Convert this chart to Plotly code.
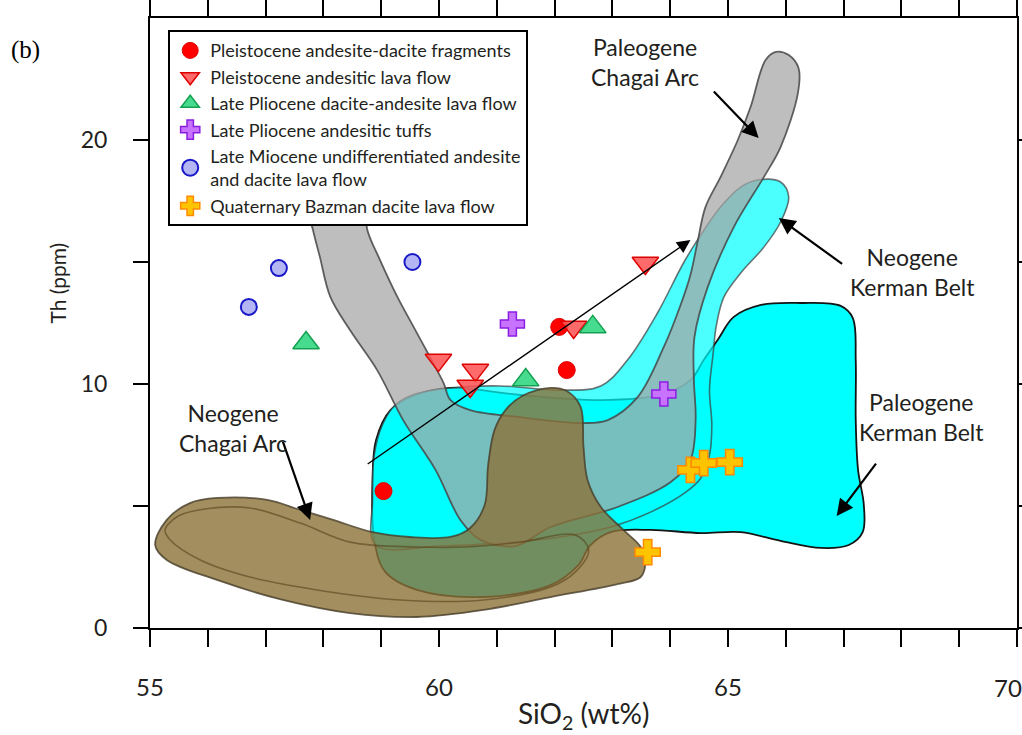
import plotly.graph_objects as go

# ---- sample data: SiO2 (wt%) vs Th (ppm) ----
pleist_frag_x = [62.08, 62.21, 59.04]
pleist_frag_y = [12.34, 10.57, 5.61]

pleist_lava_x = [59.99, 60.63, 60.54, 62.33, 63.57]
pleist_lava_y = [10.98, 10.57, 9.92, 12.34, 14.96]

plio_lava_x = [57.70, 61.50, 62.66]
plio_lava_y = [11.68, 10.16, 12.34]

plio_tuff_x = [61.27, 63.89]
plio_tuff_y = [12.46, 9.59]

miocene_x = [56.71, 57.23, 59.54]
miocene_y = [13.16, 14.75, 15.00]

bazman_x = [64.35, 64.58, 65.03, 63.61]
bazman_y = [6.48, 6.76, 6.80, 3.11]

# ---- field outlines (SiO2, Th) ----
pkb_x = [65.10, 65.57, 66.26, 66.95, 67.16, 67.21, 67.21, 67.25, 67.35, 67.33, 67.09, 66.61,
         65.91, 65.22, 64.53, 63.66, 62.97, 62.62, 62.41, 61.93, 60.77, 59.62, 59.07, 58.88,
         58.85, 58.91, 59.16, 59.59, 60.20, 61.41, 62.80, 63.83, 64.35, 64.58, 64.82]
pkb_y = [12.75, 13.24, 13.32, 13.20, 12.70, 10.98, 8.52, 6.48, 5.04, 3.93, 3.40, 3.28,
         3.57, 3.93, 3.89, 4.02, 3.93, 3.40, 2.58, 1.76, 1.27, 1.56, 2.30, 3.61,
         6.07, 7.70, 8.93, 9.55, 9.84, 9.55, 9.34, 9.55, 10.16, 10.98, 11.80]

nkb_x = [58.90, 58.85, 58.88, 59.02, 59.24, 59.59, 60.20, 61.06, 62.10, 62.80, 63.26, 63.78,
         64.23, 64.53, 64.87, 65.22, 65.51, 65.91, 66.05, 65.91, 65.62, 65.22, 64.93, 64.80,
         64.74, 64.68, 64.72, 64.68, 64.53, 64.27, 63.66, 62.97, 62.10, 61.06, 60.02]
nkb_y = [3.40, 5.25, 7.09, 8.32, 9.14, 9.59, 9.84, 9.92, 9.75, 9.92, 10.98, 12.91,
         14.96, 16.11, 17.25, 18.07, 18.36, 18.28, 17.66, 16.64, 15.61, 14.55, 13.57, 12.42,
         11.19, 9.75, 8.32, 7.09, 6.15, 5.57, 4.75, 4.14, 3.73, 3.48, 3.36]

pca_x = [57.68, 57.82, 57.94, 58.12, 58.46, 58.93, 59.38, 59.94, 60.37, 60.72, 61.32, 61.93,
         63.09, 64.01, 64.35, 64.44, 64.41, 64.42, 64.65, 65.10, 65.62, 65.91, 66.21, 66.22,
         66.05, 65.83, 65.65, 65.39, 65.17, 64.87, 64.61, 64.48, 64.35, 64.18, 63.89, 63.44,
         62.92, 62.50, 61.36, 60.54, 60.20, 60.08, 59.90, 59.56, 59.28, 58.98, 58.76, 58.67]
pca_y = [17.95, 16.31, 15.20, 13.57, 12.21, 10.57, 8.52, 6.48, 4.43, 3.61, 3.36, 4.14,
         4.96, 5.98, 6.89, 8.52, 10.16, 11.93, 13.98, 16.43, 18.48, 19.71, 21.93, 22.95,
         23.48, 23.61, 23.28, 21.35, 20.00, 18.48, 17.25, 15.90, 14.47, 13.24, 11.52, 9.47,
         8.52, 8.40, 8.65, 8.93, 9.34, 10.04, 10.86, 12.34, 13.57, 15.08, 16.31, 17.95]

nca_x = [55.09, 55.29, 55.69, 56.16, 57.03, 57.60, 58.17, 58.85, 59.50, 60.20, 60.54, 60.79,
         60.85, 60.96, 61.15, 61.44, 61.93, 62.21, 62.45, 62.50, 62.57, 62.80, 63.19, 63.49,
         63.57, 63.49, 63.09, 61.93, 60.77, 59.62, 58.46, 57.30, 56.16, 55.29]
nca_y = [3.40, 4.43, 5.12, 5.33, 5.25, 4.84, 4.43, 3.93, 3.73, 3.73, 4.10, 5.04,
         6.68, 8.11, 8.93, 9.51, 9.84, 9.71, 9.06, 7.42, 6.07, 4.96, 4.02, 3.32,
         2.70, 2.09, 1.80, 1.27, 0.74, 0.45, 0.61, 1.15, 1.97, 2.79]

nca_inner_x = [55.26, 55.49, 55.95, 56.73, 57.60, 58.46, 59.62, 60.46, 61.41, 62.36, 62.59,
               62.36, 61.93, 60.77, 59.33, 57.89, 56.73, 55.87, 55.35]
nca_inner_y = [4.02, 4.59, 4.88, 4.92, 4.30, 3.52, 3.32, 3.32, 3.52, 3.81, 3.20,
               2.30, 1.68, 1.15, 1.15, 1.56, 2.09, 2.79, 3.61]

x_ticks = list(range(55, 71))
# the label for 70 sits at the very edge of the page and is placed separately
x_ticktext = [str(v) if v % 5 == 0 and v < 70 else "" for v in x_ticks]
y_ticks = [0, 5, 10, 15, 20]
y_ticktext = ["0", "", "10", "", "20"]

FONT = "Lato"
TXT = "#231f20"


def closed(xs, ys):
    return xs + xs[:1], ys + ys[:1]


fig = go.Figure()


def add_field(xs, ys, fill, line_color, line_width=1.8):
    cx, cy = closed(xs, ys)
    fig.add_trace(go.Scatter(
        x=cx, y=cy, mode="lines", fill="toself", fillcolor=fill,
        line=dict(color=line_color, width=line_width, shape="spline", smoothing=1.0),
        hoverinfo="skip", showlegend=False))


add_field(pkb_x, pkb_y, "rgb(0,255,255)", "rgb(20,20,20)", 1.8)
add_field(nkb_x, nkb_y, "rgba(0,255,255,0.7)", "rgba(60,60,60,0.7)", 1.6)
add_field(pca_x, pca_y, "rgba(165,165,165,0.72)", "rgba(70,70,70,0.85)", 1.8)
add_field(nca_x, nca_y, "rgba(140,114,56,0.8)", "rgba(70,60,40,0.8)", 1.8)
ix, iy = closed(nca_inner_x, nca_inner_y)
fig.add_trace(go.Scatter(x=ix, y=iy, mode="lines",
                         line=dict(color="rgba(80,60,20,0.55)", width=1.6, shape="spline"),
                         hoverinfo="skip", showlegend=False))

# ---- sample groups ----
fig.add_trace(go.Scatter(
    x=pleist_frag_x, y=pleist_frag_y, mode="markers",
    name="Pleistocene andesite-dacite fragments",
    marker=dict(symbol="circle", size=17, color="#ff0000", line=dict(color="#e00000", width=1))))
fig.add_trace(go.Scatter(
    x=pleist_lava_x, y=pleist_lava_y, mode="markers",
    name="Pleistocene andesitic lava flow",
    marker=dict(symbol="triangle-down", size=23, color="rgba(255,80,80,0.85)",
                line=dict(color="#dd0000", width=1.5))))
fig.add_trace(go.Scatter(
    x=plio_lava_x, y=plio_lava_y, mode="markers",
    name="Late Pliocene dacite-andesite lava flow",
    marker=dict(symbol="triangle-up", size=23, color="rgba(50,215,130,0.9)",
                line=dict(color="#14a050", width=1.5))))
fig.add_trace(go.Scatter(
    x=plio_tuff_x, y=plio_tuff_y, mode="markers",
    name="Late Pliocene andesitic tuffs",
    marker=dict(symbol="cross", size=20, color="#c873ff", line=dict(color="#8a1ee0", width=1.5))))
fig.add_trace(go.Scatter(
    x=miocene_x, y=miocene_y, mode="markers",
    name="Late Miocene undifferentiated andesite<br>and dacite lava flow",
    marker=dict(symbol="circle", size=16, color="#b4b6f4", line=dict(color="#1818c8", width=2))))
fig.add_trace(go.Scatter(
    x=bazman_x, y=bazman_y, mode="markers",
    name="Quaternary Bazman dacite lava flow",
    marker=dict(symbol="cross", size=21, color="#ffc400", line=dict(color="#ff8a00", width=1.5))))

# ---- trend arrow and field labels ----
arrows = [
    # (head x, head y, tail x, tail y, width)
    (64.35, 15.90, 58.74, 6.68, 1.4),
    (65.53, 20.08, 64.73, 22.05, 2.2),
    (65.88, 16.80, 67.00, 14.88, 2.2),
    (66.88, 4.59, 67.58, 6.80, 2.2),
    (57.77, 4.43, 57.29, 7.70, 2.2),
]
annotations = []
for hx, hy, tx, ty, w in arrows:
    annotations.append(dict(
        x=hx, y=hy, ax=tx, ay=ty, xref="x", yref="y", axref="x", ayref="y",
        text="", showarrow=True, arrowhead=2, arrowsize=1.9 if w < 2 else 1.5,
        arrowwidth=w, arrowcolor="#000000"))

labels = [
    ("Paleogene<br>Chagai Arc", 63.57, 23.2),
    ("Neogene<br>Kerman Belt", 68.20, 14.6),
    ("Paleogene<br>Kerman Belt", 68.34, 8.65),
    ("Neogene<br>Chagai Arc", 56.44, 8.2),
]
for txt, lx, ly in labels:
    annotations.append(dict(x=lx, y=ly, xref="x", yref="y", text=txt, showarrow=False,
                            font=dict(family=FONT, size=23, color=TXT), align="center"))

annotations += [
    dict(x=-0.107, y=0.565, xref="paper", yref="paper", text="Th (ppm)", textangle=-90,
         xanchor="center", yanchor="middle",
         showarrow=False, font=dict(family=FONT, size=21, color=TXT)),
    dict(x=0.5, y=-0.143, xref="paper", yref="paper", text="SiO<sub>2</sub> (wt%)",
         xanchor="center", yanchor="middle",
         showarrow=False, font=dict(family=FONT, size=28, color=TXT)),
    dict(x=0.9896, y=-0.098, xref="paper", yref="paper", text="70",
         xanchor="center", yanchor="middle",
         showarrow=False, font=dict(family=FONT, size=24, color=TXT)),
    dict(x=-0.144, y=0.948, xref="paper", yref="paper", text="(b)",
         xanchor="center", yanchor="middle",
         showarrow=False, font=dict(family="Liberation Serif", size=25, color="#000000")),
]

fig.update_layout(
    width=1022, height=735,
    margin=dict(l=150, r=5, t=18, b=107),
    paper_bgcolor="white", plot_bgcolor="white",
    annotations=annotations,
    legend=dict(x=0.021, y=0.98, xanchor="left", yanchor="top",
                bgcolor="white", bordercolor="#000000", borderwidth=2,
                font=dict(family=FONT, size=18, color=TXT),
                itemsizing="trace", tracegroupgap=0),
    xaxis=dict(range=[55, 70], tickvals=x_ticks, ticktext=x_ticktext, automargin=False,
               ticks="outside", ticklen=17, tickwidth=1.5, tickcolor="#000",
               showline=True, linecolor="#000", linewidth=2, mirror="ticks",
               showgrid=False, zeroline=False, ticklabelstandoff=20,
               tickfont=dict(family=FONT, size=24, color=TXT)),
    yaxis=dict(range=[0, 25], tickvals=y_ticks, ticktext=y_ticktext, automargin=False,
               ticks="outside", ticklen=15, tickwidth=1.5, tickcolor="#000",
               showline=True, linecolor="#000", linewidth=2, mirror="ticks",
               showgrid=False, zeroline=False, ticklabelstandoff=21,
               tickfont=dict(family=FONT, size=23, color=TXT)),
)

fig.write_html("out.html")
